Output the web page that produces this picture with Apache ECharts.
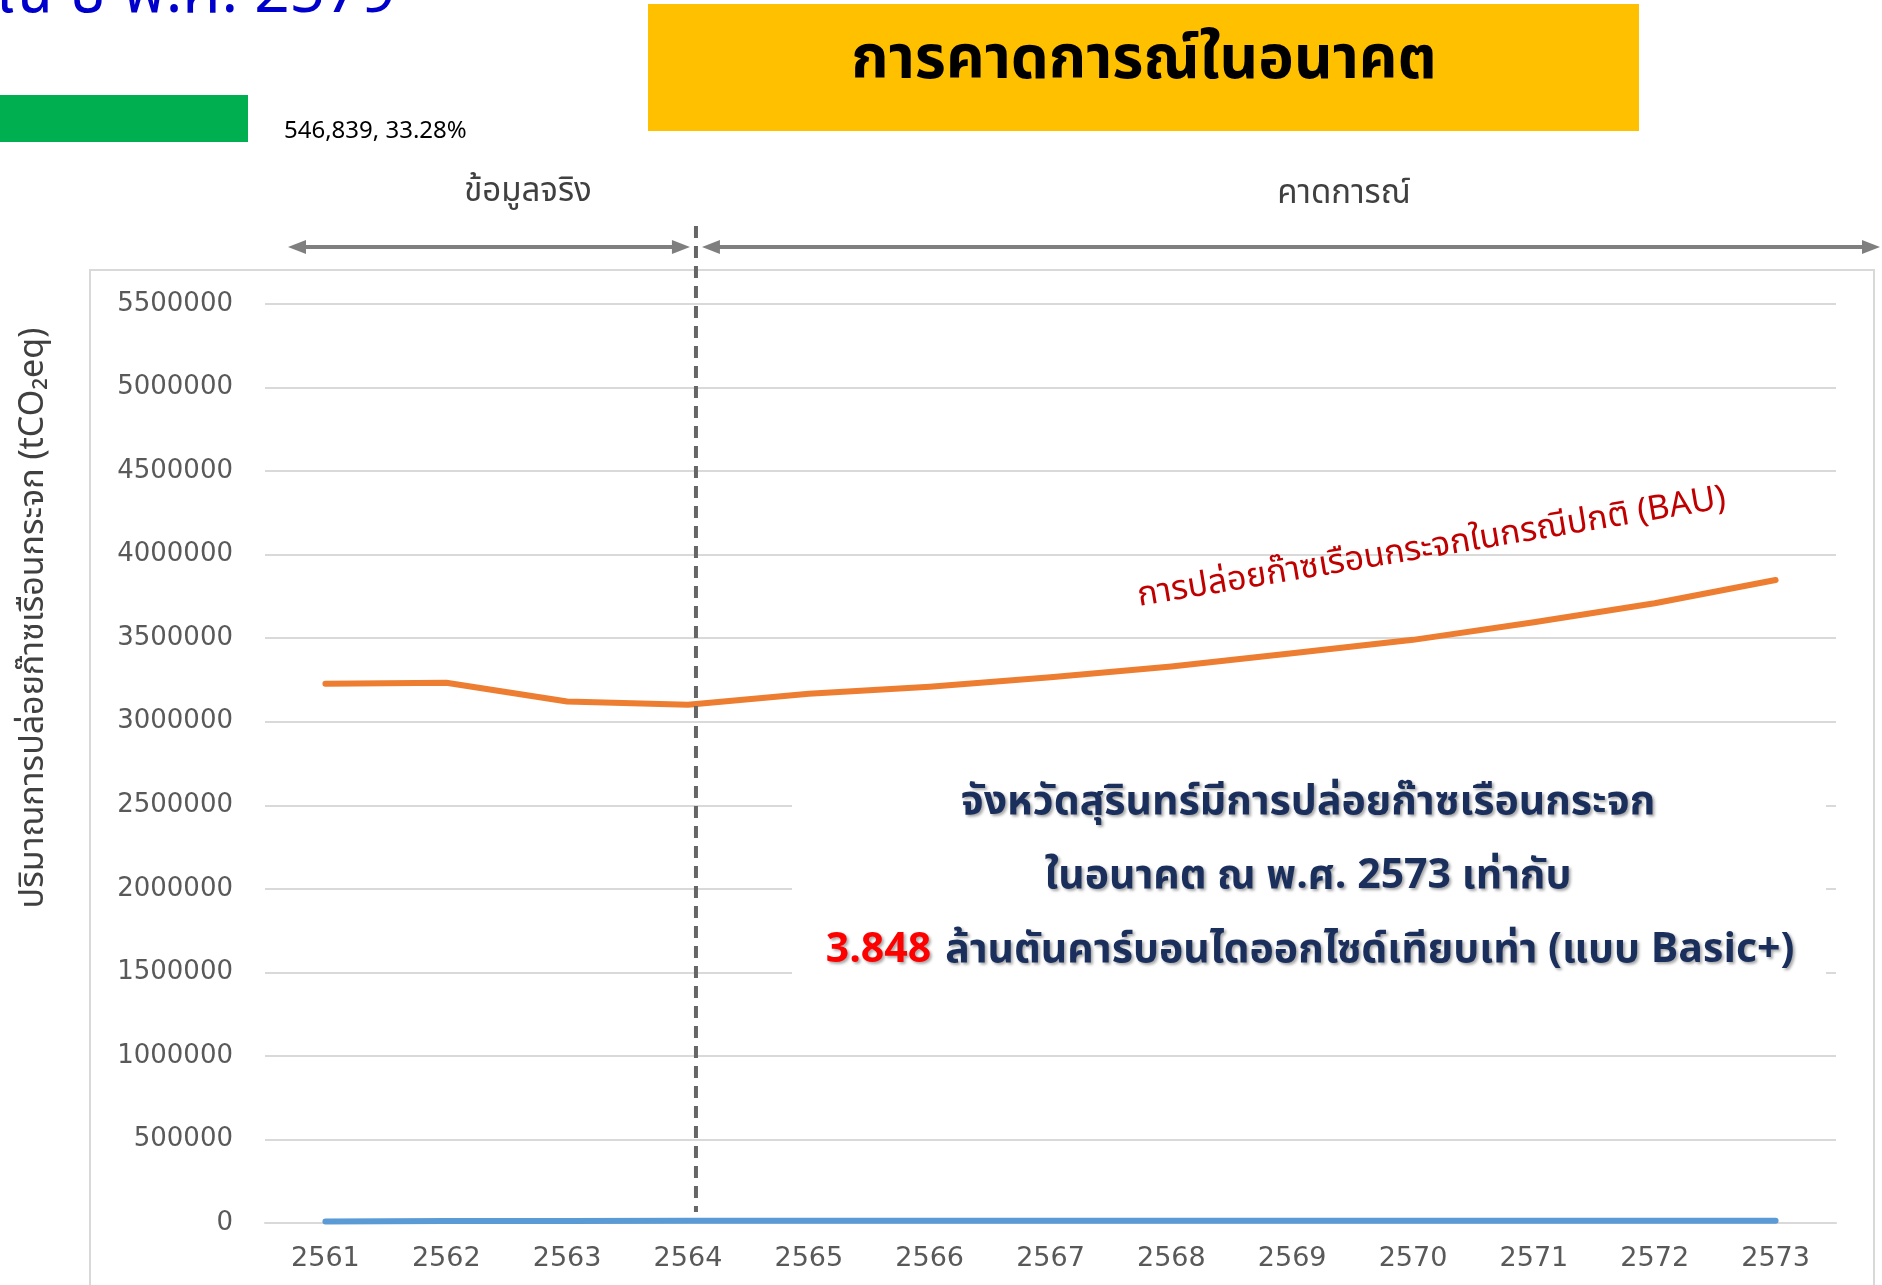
<!DOCTYPE html>
<html>
<head>
<meta charset="utf-8">
<script src="https://cdn.jsdelivr.net/npm/echarts@6/dist/echarts.min.js"></script>
<style>
  html, body { margin: 0; padding: 0; background: #fff; }
  #main { width: 1882px; height: 1285px; }
</style>
</head>
<body>
<div id="main"></div>
<script>
  // ปี พ.ศ.
  var years = ['2561', '2562', '2563', '2564', '2565', '2566', '2567', '2568', '2569', '2570', '2571', '2572', '2573'];
  // การปล่อยก๊าซเรือนกระจกในกรณีปกติ (BAU), tCO2eq
  var bauValues = [3227000, 3233000, 3121000, 3101000, 3167000, 3210000, 3266000, 3330000, 3410000, 3490000, 3595000, 3709000, 3848000];
  // เส้นสีฟ้าใกล้ศูนย์
  var lowValues = [9000, 12000, 12500, 13000, 13000, 13200, 13300, 13400, 13500, 13600, 13700, 13800, 13900];
  var yMin = 0, yMax = 5500000, yStep = 500000;

  var thaiFont = '"Noto Sans Thai", "Noto Sans", "DejaVu Sans", sans-serif';
  var numFont = '"DejaVu Sans", sans-serif';
  var shadow = { textShadowColor: 'rgba(0,0,0,0.35)', textShadowBlur: 3, textShadowOffsetX: 2, textShadowOffsetY: 2 };

  var myChart = echarts.init(document.getElementById('main'));
  myChart.setOption({
    animation: false,
    grid: { left: 265, right: 46, top: 304, bottom: 62, containLabel: false },
    xAxis: {
      type: 'category',
      data: years,
      boundaryGap: true,
      axisLine: { show: true, lineStyle: { color: '#d9d9d9', width: 2 } },
      axisTick: { show: false },
      axisLabel: { color: '#595959', fontFamily: numFont, fontSize: 27, margin: 22 }
    },
    yAxis: {
      type: 'value',
      min: yMin,
      max: yMax,
      interval: yStep,
      axisLine: { show: false },
      axisTick: { show: false },
      axisLabel: { color: '#595959', fontFamily: numFont, fontSize: 26, margin: 32,
                   formatter: function (v) { return String(v); } },
      splitLine: { lineStyle: { color: '#d9d9d9', width: 2 } }
    },
    series: [
      {
        name: 'BAU',
        type: 'line',
        data: bauValues,
        smooth: false,
        symbol: 'none',
        lineStyle: { color: '#ED7D31', width: 6, cap: 'round', join: 'round' },
        z: 3
      },
      {
        name: 'low',
        type: 'line',
        data: lowValues,
        symbol: 'none',
        lineStyle: { color: '#5B9BD5', width: 6, cap: 'round' },
        z: 3
      }
    ]
  });

  // ตำแหน่งเส้นแบ่งข้อมูลจริง/คาดการณ์
  var splitX = myChart.convertToPixel({ xAxisIndex: 0 }, '2564') + 8;
  var arrowY = 247;
  var grey = '#7f7f7f';

  function arrowHead(x, y, dir) {
    return {
      type: 'polygon',
      shape: { points: [[x, y], [x - dir * 18, y - 7], [x - dir * 18, y + 7]] },
      style: { fill: grey },
      z: 5
    };
  }

  myChart.setOption({
    graphic: [
      // กรอบแผนภูมิ
      { type: 'rect', shape: { x: 90, y: 270, width: 1784, height: 1100 },
        style: { fill: 'none', stroke: '#d9d9d9', lineWidth: 2 }, z: -1 },
      // พื้นที่ว่างหลังข้อความกลาง
      { type: 'rect', shape: { x: 792, y: 756, width: 1034, height: 240 },
        style: { fill: '#ffffff' }, z: 1 },
      // ชื่อแกนตั้ง
      { type: 'text', x: 36, y: 618, rotation: Math.PI / 2, z: 5,
        style: { text: 'ปริมาณการปล่อยก๊าซเรือนกระจก (tCO₂eq)', fill: '#404040', font: '34px ' + thaiFont,
                 align: 'center', verticalAlign: 'middle' } },
      // หัวข้อที่ถูกตัด
      { type: 'text', x: 396, y: 30, z: 5,
        style: { text: 'ณ ปี พ.ศ. 2579', fill: '#0000CC', font: '62px ' + thaiFont,
                 align: 'right', verticalAlign: 'bottom' } },
      // แถบสีเขียว
      { type: 'rect', shape: { x: 0, y: 95, width: 248, height: 47 }, style: { fill: '#00B050' }, z: 5 },
      { type: 'text', x: 284, y: 133, z: 5,
        style: { text: '546,839, 33.28%', fill: '#000', font: '24px "Liberation Sans Narrow", ' + thaiFont,
                 align: 'left', verticalAlign: 'middle' } },
      // กล่องหัวข้อ
      { type: 'rect', shape: { x: 648, y: 4, width: 991, height: 127 }, style: { fill: '#FFC000' }, z: 5 },
      { type: 'text', x: 1144, y: 66, z: 6,
        style: { text: 'การคาดการณ์ในอนาคต', fill: '#000', font: 'bold 60px ' + thaiFont,
                 align: 'center', verticalAlign: 'middle' } },
      // ป้ายช่วงเวลา
      { type: 'text', x: 528, y: 194, z: 5,
        style: { text: 'ข้อมูลจริง', fill: '#404040', font: '33px ' + thaiFont, align: 'center', verticalAlign: 'middle' } },
      { type: 'text', x: 1344, y: 196, z: 5,
        style: { text: 'คาดการณ์', fill: '#404040', font: '33px ' + thaiFont, align: 'center', verticalAlign: 'middle' } },
      // ลูกศร
      { type: 'line', shape: { x1: 300, y1: arrowY, x2: splitX - 12, y2: arrowY },
        style: { stroke: grey, lineWidth: 4 }, z: 5 },
      arrowHead(288, arrowY, -1),
      arrowHead(splitX - 6, arrowY, 1),
      { type: 'line', shape: { x1: splitX + 12, y1: arrowY, x2: 1866, y2: arrowY },
        style: { stroke: grey, lineWidth: 4 }, z: 5 },
      arrowHead(splitX + 6, arrowY, -1),
      arrowHead(1880, arrowY, 1),
      // เส้นประแบ่งช่วง
      { type: 'line', shape: { x1: splitX, y1: 226, x2: splitX, y2: 1212 },
        style: { stroke: '#666666', lineWidth: 4, lineDash: [12, 8] }, z: 5 },
      // ป้าย BAU
      { type: 'text', x: 1432, y: 550, rotation: 9.5 * Math.PI / 180, z: 5,
        style: { text: 'การปล่อยก๊าซเรือนกระจกในกรณีปกติ (BAU)', fill: '#C00000', font: '34px ' + thaiFont,
                 align: 'center', verticalAlign: 'middle' } },
      // ข้อความสรุป
      { type: 'text', x: 1308, y: 806, z: 6,
        style: Object.assign({ text: 'จังหวัดสุรินทร์มีการปล่อยก๊าซเรือนกระจก', fill: '#1b2f5c', font: 'bold 41px ' + thaiFont,
                 align: 'center', verticalAlign: 'middle' }, shadow) },
      { type: 'text', x: 1308, y: 880, z: 6,
        style: Object.assign({ text: 'ในอนาคต ณ พ.ศ. 2573 เท่ากับ', fill: '#1b2f5c', font: 'bold 41px ' + thaiFont,
                 align: 'center', verticalAlign: 'middle' }, shadow) },
      { type: 'text', x: 1310, y: 954, z: 6,
        style: { text: '{r|3.848}{s| }{n|ล้านตันคาร์บอนไดออกไซด์เทียบเท่า (แบบ Basic+)}',
                 align: 'center', verticalAlign: 'middle',
                 rich: {
                   r: Object.assign({ fill: '#FF0000', font: 'bold 41px ' + thaiFont }, shadow),
                   s: { width: 14 },
                   n: Object.assign({ fill: '#1b2f5c', font: 'bold 41px ' + thaiFont }, shadow)
                 } } }
    ]
  });
</script>
</body>
</html>
